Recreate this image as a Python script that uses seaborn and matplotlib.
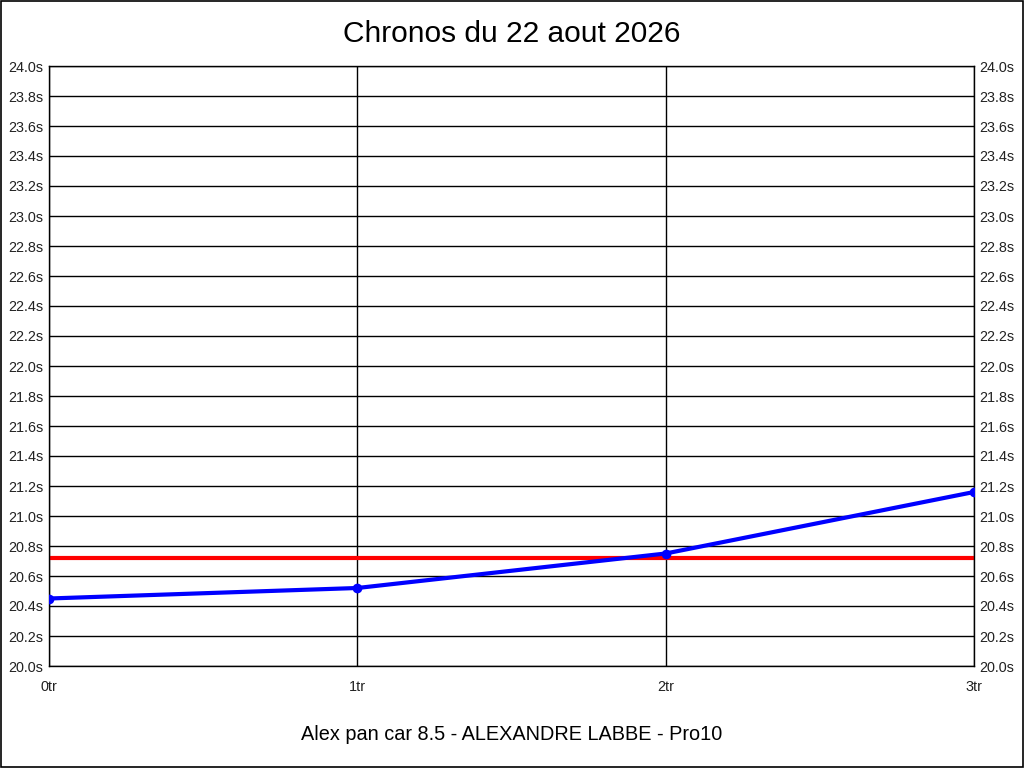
import numpy as np
import pandas as pd
import seaborn as sns
import matplotlib.pyplot as plt
from matplotlib.ticker import FuncFormatter, MultipleLocator

# Lap data
laps = [0, 1, 2, 3]
times = [20.45, 20.52, 20.75, 21.16]
lap_labels = ['0tr', '1tr', '2tr', '3tr']
title = 'Chronos du 22 aout 2026'
subtitle = 'Alex pan car 8.5 - ALEXANDRE LABBE - Pro10'

df = pd.DataFrame({'lap': laps, 'time': times})
mean_time = np.mean(times)

sns.set_style('white')
plt.rcParams['font.family'] = ['Liberation Sans', 'DejaVu Sans']

fig = plt.figure(figsize=(10.24, 7.68), dpi=100)
ax = fig.add_axes([49 / 1024, 1 - 666 / 768, 925 / 1024, 600 / 768])

# Horizontal grid lines and vertical lap lines
for y in np.arange(20.0, 24.01, 0.2):
    ax.axhline(y, color='black', lw=1, zorder=1)
for x in laps:
    ax.axvline(x, color='black', lw=1, zorder=1)

# Mean line
ax.axhline(mean_time, color='#ff0000', lw=3, zorder=2)

# Lap times
sns.lineplot(data=df, x='lap', y='time', ax=ax, color='#0000ff', lw=3,
             marker='o', markersize=7, markeredgewidth=0, zorder=3)

ax.set_xlim(0, 3)
ax.set_ylim(20.0, 24.0)
ax.yaxis.set_major_locator(MultipleLocator(0.2))
ax.yaxis.set_major_formatter(FuncFormatter(lambda v, p: f'{v:.1f}s'))
ax.set_xticks(laps)
ax.set_xticklabels(lap_labels)
ax.tick_params(axis='both', length=0, labelsize=10.4, colors='#222222')
ax.tick_params(axis='x', pad=10)
ax.tick_params(axis='y', pad=4)
ax.tick_params(labelright=True)
ax.set_xlabel('')
ax.set_ylabel('')
for s in ax.spines.values():
    s.set_color('black')
    s.set_linewidth(1)
    s.set_visible(True)

fig.text(0.5, 1 - 34 / 768, title, ha='center', va='center', fontsize=21.5, color='black')
fig.text(0.5, 1 - 735 / 768, subtitle, ha='center', va='center', fontsize=14.3, color='black')

# Border around the figure
fig.patches.append(plt.Rectangle((0.0005, 0.0007), 0.999, 0.9986, transform=fig.transFigure,
                                 fill=False, edgecolor='black', lw=1.2))

fig.savefig('out.png', dpi=100)
